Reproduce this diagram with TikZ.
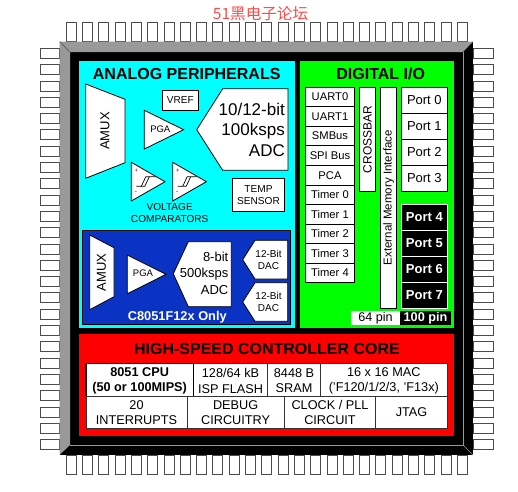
\documentclass[tikz,border=0pt]{standalone}
\usepackage{fontspec}
\setmainfont{Liberation Sans}
\newfontfamily\cjkfont{Noto Sans CJK SC}
\definecolor{pkgray}{HTML}{999999}
\definecolor{anacyan}{HTML}{00FFFF}
\definecolor{digreen}{HTML}{00FF00}
\definecolor{corered}{HTML}{FF0000}
\definecolor{hsblue}{HTML}{0A33C4}
\definecolor{logored}{HTML}{FF4A4A}
\newcommand{\fs}[1]{\fontsize{#1}{#1}\selectfont}
\tikzset{
  pkgpin/.style={draw=black!70,fill=white,line width=.6pt},
  wbox/.style={draw=black,fill=white,line width=.8pt},
  thickbox/.style={draw=black,fill=white,line width=1.4pt},
  cellbox/.style={draw=black!80,fill=white,line width=.8pt},
  kbox/.style={draw=white,fill=black,line width=.8pt},
  lab/.style={inner sep=0pt,align=center,text=black},
  title/.style={lab,font=\fs{16}\bfseries},
  dig/.style={lab,font=\fs{11.2}},
  prt/.style={lab,font=\fs{13}},
  kprt/.style={lab,font=\fs{13}\bfseries,text=white},
  cor/.style={lab,font=\fs{12.7}},
  cmp/.style={wbox},
  sym/.style={draw=black,line width=.7pt}
}
\begin{document}
\begin{tikzpicture}[x=1pt,y=-1pt]
\useasboundingbox (0,0) rectangle (518,491);
\fill[white] (0,0) rectangle (518,491);
\node[inner sep=0pt,font=\cjkfont\fs{15.6},text=logored] (logo) at (260.5,13.5) {51黑电子论坛};
% pins
\foreach \i in {0,...,24}{
  \pgfmathsetmacro{\pa}{66+16.3*\i}
  \pgfmathsetmacro{\pb}{76+16.3*\i}
  \pgfmathsetmacro{\qa}{48.2+16.3*\i}
  \pgfmathsetmacro{\qb}{58.2+16.3*\i}
  \draw[pkgpin] (\pa,22.5) rectangle (\pb,41.5);
  \draw[pkgpin] (\pa,455) rectangle (\pb,474);
  \draw[pkgpin] (40.5,\qa) rectangle (59.5,\qb);
  \draw[pkgpin] (473,\qa) rectangle (493,\qb);
}
% package
\fill[black] (59.5,41.5) rectangle (473,455);
\fill[pkgray] (59.5,41.5) -- (473,41.5) -- (463,52) -- (70,52) -- (70,445) -- (59.5,455) -- cycle;
\draw[black!70,line width=.5pt] (59.5,41.5) -- (70,52);
\draw[pkgray,line width=.7pt] (463,445) -- (473,455);
\draw[pkgray,line width=.5pt] (463,52) -- (463,445) -- (70,445);
% panels
\fill[anacyan] (79,61) rectangle (295,327.5);
\fill[digreen] (300,61) rectangle (454,328);
\fill[corered] (79,334) rectangle (454,436);
% analog
\node[title] (anatitle) at (186.7,73.5) {ANALOG PERIPHERALS};
\draw[wbox] (85.7,84) -- (125,99.3) -- (125,162.7) -- (85.7,178.3) -- cycle;
\node[lab,font=\fs{13},rotate=90] (amuxa) at (105,131) {AMUX};
\draw[wbox] (162.3,90.3) rectangle (198.3,110.3) node[midway,lab,font=\fs{10}] (vref) {VREF};
\draw[wbox] (144.3,110.3) -- (183.7,129.7) -- (144.3,149) -- cycle;
\node[lab,font=\fs{9.5}] (pgaa) at (160.3,129.7) {PGA};
\draw[wbox] (196.7,129.7) -- (222.7,88.7) -- (288,88.7) -- (288,170.3) -- (222.7,170.3) -- cycle;
\node[lab,font=\fs{17},align=right,text width=70pt,anchor=east,execute at begin node={\setlength{\baselineskip}{20.7pt}}] (adca) at (285,129.7) {10/12-bit\\100ksps\\ADC};
\foreach \x/\n in {131.3/ca,172.7/cb}{
  \draw[cmp] (\x,162.3) -- (\x+33.7,181.7) -- (\x,201) -- cycle;
  \node[lab,font=\fs{6},text=black!50!purple] (\n p) at (\x+5,171) {+};
  \node[lab,font=\fs{6}] (\n m) at (\x+4.5,192.5) {-};
  \draw[sym] (\x+5,186.3) -- (\x+13.5,186.3) -- (\x+18,176.7) -- (\x+24,176.7);
  \draw[sym] (\x+10,186.3) -- (\x+14.5,176.7) -- (\x+18,176.7);
}
\node[lab,font=\fs{10.1},execute at begin node={\setlength{\baselineskip}{12pt}}] (vcomp) at (169.7,213) {VOLTAGE\\COMPARATORS};
\draw[wbox] (232.3,178.3) rectangle (284.7,211) node[midway,lab,font=\fs{10.1},execute at begin node={\setlength{\baselineskip}{12pt}}] (temp) {TEMP\\SENSOR};
% blue
\draw[fill=hsblue,draw=black,line width=.6pt] (82.3,230.7) rectangle (290.7,324.3);
\draw[wbox] (89.7,235) -- (114,247.7) -- (114,296.7) -- (89.7,309.7) -- cycle;
\node[lab,font=\fs{13},rotate=90] (amuxb) at (101.5,272.3) {AMUX};
\draw[wbox] (127.3,255) -- (166,274.3) -- (127.3,293.7) -- cycle;
\node[lab,font=\fs{9.5}] (pgab) at (143,273.5) {PGA};
\draw[wbox] (173.3,273.7) -- (188.3,241.7) -- (231.3,241.7) -- (231.3,306.7) -- (188.3,306.7) -- cycle;
\node[lab,font=\fs{13},align=right,text width=60pt,anchor=east,execute at begin node={\setlength{\baselineskip}{16.2pt}}] (adcb) at (228.5,273.3) {8-bit\\500ksps\\ADC};
\draw[wbox] (242.7,259.7) -- (255,240.3) -- (287.7,240.3) -- (287.7,279) -- (255,279) -- cycle;
\node[lab,font=\fs{10},execute at begin node={\setlength{\baselineskip}{12pt}}] (daca) at (268.5,259.7) {12-Bit\\ DAC};
\draw[wbox] (242.7,302) -- (255,282.7) -- (287.7,282.7) -- (287.7,321.3) -- (255,321.3) -- cycle;
\node[lab,font=\fs{10},execute at begin node={\setlength{\baselineskip}{12pt}}] (dacb) at (268.5,302) {12-Bit\\ DAC};
\node[lab,font=\fs{12.8}\bfseries,text=white] (only) at (177.3,316.7) {C8051F12x Only};
% digital
\node[title] (digtitle) at (380.7,73.5) {DIGITAL I/O};
\foreach \t/\a/\b/\n in {UART0/87/106.7/d0,UART1/106.7/126.3/d1,SMBus/126.3/145.7/d2,SPI Bus/145.7/165.3/d3,PCA/165.3/185/d4,Timer 0/185/204.3/d5,Timer 1/204.3/224/d6,Timer 2/224/243.7/d7,Timer 3/243.7/263/d8,Timer 4/263/282.3/d9}{
  \draw[wbox] (305.7,\a) rectangle (354.3,\b) node[midway,dig] (\n) {\t};
}
\draw[wbox] (359.3,87) rectangle (375.7,191.7) node[midway,lab,font=\fs{12},rotate=90] (xbar) {CROSSBAR};
\draw[wbox] (380.7,87) rectangle (396.7,308.3) node[midway,lab,font=\fs{11.5},rotate=90] (emi) {External Memory Interface};
\foreach \t/\a/\b/\n in {Port 0/87/113/pa,Port 1/113/139/pb,Port 2/139/165/pc,Port 3/165/191.3/pd}{
  \draw[wbox] (401.7,\a) rectangle (447,\b) node[midway,prt] (\n) {\t};
}
\foreach \t/\a/\b/\n in {Port 4/204.3/230.3/pe,Port 5/230.3/256.3/pf,Port 6/256.3/282.3/pg,Port 7/282.3/308.3/ph}{
  \draw[kbox] (401.7,\a) rectangle (447,\b) node[midway,kprt] (\n) {\t};
}
\fill[white] (351,311) rectangle (400,325);
\fill[black] (400,311) rectangle (451,325);
\node[lab,font=\fs{12.6}] (p64) at (375.5,318) {64 pin};
\node[lab,font=\fs{12.7}\bfseries,text=white] (p100) at (425.5,318) {100 pin};
% core
\node[title] (coretitle) at (267,348.5) {HIGH-SPEED CONTROLLER CORE};
\tikzset{tworow/.style={cor,yshift=-1pt,execute at begin node={\setlength{\baselineskip}{15.6pt}}},botrow/.style={cor,execute at begin node={\setlength{\baselineskip}{15pt}}}}
\draw[cellbox] (193.3,363.3) rectangle (267.7,396.3) node[midway,tworow] (ca1) {128/64 kB\\ISP FLASH};
\draw[cellbox] (267.7,363.3) rectangle (320.3,396.3) node[midway,tworow] (ca2) {8448 B\\SRAM};
\draw[cellbox] (320.3,363.3) rectangle (447.3,396.3) node[midway,tworow] (ca3) {16 x 16 MAC\\('F120/1/2/3, 'F13x)};
\draw[thickbox] (86,363.3) rectangle (193.3,396.3) node[midway,tworow,font=\fs{12.7}\bfseries] (cpu) {8051 CPU\\(50 or 100MIPS)};
\draw[cellbox] (86,396.3) rectangle (187,428.7) node[midway,botrow] (cb1) {20\\INTERRUPTS};
\draw[cellbox] (187,396.3) rectangle (284.3,428.7) node[midway,botrow] (cb2) {DEBUG\\CIRCUITRY};
\draw[cellbox] (284.3,396.3) rectangle (375.7,428.7) node[midway,botrow] (cb3) {CLOCK / PLL\\CIRCUIT};
\draw[cellbox] (375.7,396.3) rectangle (447.3,428.7) node[midway,botrow] (cb4) {JTAG};
\end{tikzpicture}
\end{document}
